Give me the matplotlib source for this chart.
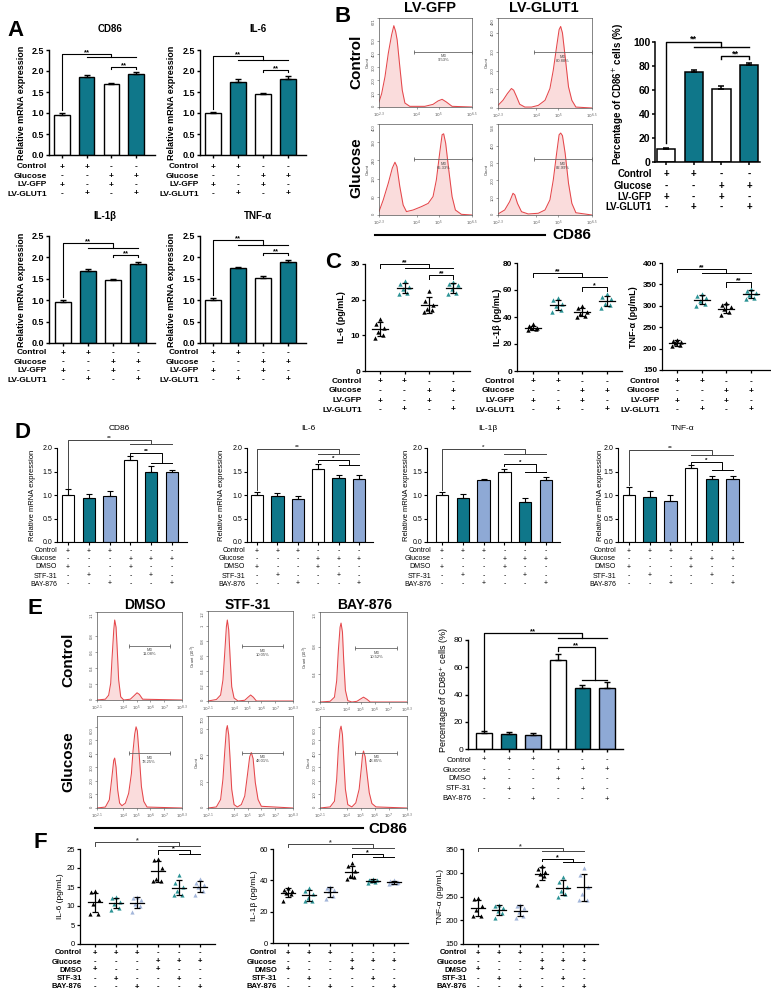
import matplotlib
matplotlib.use('Agg')
import matplotlib.pyplot as plt
import matplotlib.transforms as mtrans
from matplotlib.lines import Line2D
import numpy as np

plt.rcParams['font.family'] = ['Liberation Sans', 'DejaVu Sans']
plt.rcParams['mathtext.fontset'] = 'dejavusans'

W, H = 771, 992
fig = plt.figure(figsize=(W / 100, H / 100), dpi=100)

TEAL = '#0F778A'
TEAL2 = '#2C9496'
LBLUE = '#8EA9D5'
LBLUE2 = '#A3B6DA'
RED = '#E5474B'
PINK = '#FADCDC'

# ===================== DATA =====================
A_cond = ['Control', 'Glucose', 'LV-GFP', 'LV-GLUT1']
A_signs = [['+', '+', '-', '-'], ['-', '-', '+', '+'], ['+', '-', '+', '-'], ['-', '+', '-', '+']]
A_cd86 = [0.96, 1.86, 1.68, 1.93]
A_cd86_sd = [0.05, 0.04, 0.04, 0.05]
A_il6 = [1.00, 1.75, 1.45, 1.82]
A_il6_sd = [0.03, 0.05, 0.03, 0.05]
A_il1b = [0.96, 1.69, 1.47, 1.84]
A_il1b_sd = [0.04, 0.03, 0.02, 0.06]
A_tnf = [1.00, 1.75, 1.53, 1.90]
A_tnf_sd = [0.05, 0.02, 0.04, 0.05]
A_yticks = [0.0, 0.5, 1.0, 1.5, 2.0, 2.5]

B_pct = [11.0, 75.0, 61.0, 80.5]
B_pct_sd = [1.0, 2.0, 2.2, 2.0]
B_yticks = [0, 20, 40, 60, 80, 100]

# flow histograms panel B (log10 fluorescence, count)
B_gfp_ctrl_x = [2.30, 2.42, 2.57, 2.72, 2.87, 2.97, 3.05, 3.12, 3.24, 3.35, 3.47, 3.69, 4.37, 4.74, 4.97, 5.15, 5.34, 5.60, 6.50]
B_gfp_ctrl_y = [38, 101, 228, 405, 544, 613, 570, 506, 304, 127, 30, 5, 5, 20, 46, 58, 38, 5, 0]
B_glut_ctrl_x = [2.30, 2.52, 2.72, 2.90, 3.00, 3.12, 3.27, 3.50, 3.80, 4.10, 4.40, 4.62, 4.77, 4.92, 5.03, 5.10, 5.18, 5.30, 5.45, 5.60, 5.78, 6.50]
B_glut_ctrl_y = [14, 41, 77, 104, 95, 63, 20, 5, 5, 14, 41, 104, 202, 328, 418, 435, 400, 274, 113, 41, 5, 0]
B_gfp_glu_x = [2.30, 2.49, 2.72, 2.90, 3.02, 3.11, 3.24, 3.39, 3.54, 3.84, 4.22, 4.52, 4.74, 4.89, 5.04, 5.15, 5.22, 5.31, 5.45, 5.60, 5.75, 6.02, 6.50]
B_gfp_glu_y = [15, 66, 140, 206, 232, 213, 125, 44, 15, 22, 37, 51, 81, 154, 272, 353, 357, 316, 199, 81, 22, 3, 0]
B_glut_glu_x = [2.30, 2.60, 2.82, 2.97, 3.05, 3.17, 3.35, 3.65, 4.10, 4.40, 4.62, 4.77, 4.92, 5.03, 5.10, 5.18, 5.30, 5.45, 5.60, 5.78, 6.50]
B_glut_glu_y = [6, 29, 77, 125, 116, 67, 19, 6, 10, 29, 87, 202, 356, 462, 472, 457, 356, 183, 67, 13, 0]
B_m3_pct = ['9.53%', '80.88%', '65.33%', '82.99%']

C_cond = A_cond
C_il6 = [[14.5, 13.2, 12.0, 11.0, 10.0, 9.3], [25.2, 24.3, 23.5, 23.0, 22.0, 21.5],
         [22.5, 19.5, 18.5, 17.5, 17.0, 16.5], [25.0, 24.5, 24.0, 23.0, 22.0, 21.5]]
C_il1b = [[34.5, 33.0, 32.0, 31.5, 31.0, 30.5], [54.0, 52.5, 50.0, 48.0, 45.0, 44.0],
          [48.0, 47.0, 44.0, 42.0, 41.0, 40.0], [57.0, 55.0, 53.0, 50.0, 49.0, 47.0]]
C_tnf = [[221, 218, 215, 212, 208, 205], [328, 322, 318, 312, 305, 300],
         [306, 303, 298, 292, 285, 278], [340, 335, 330, 325, 318, 315]]

D_cond = ['Control', 'Glucose', 'DMSO', 'STF-31', 'BAY-876']
D_signs = [['+', '+', '+', '-', '-', '-'], ['-', '-', '-', '+', '+', '+'], ['+', '-', '-', '+', '-', '-'],
           ['-', '+', '-', '-', '+', '-'], ['-', '-', '+', '-', '-', '+']]
D_cd86 = [1.00, 0.94, 0.97, 1.75, 1.49, 1.49]
D_cd86_sd = [0.12, 0.08, 0.12, 0.08, 0.12, 0.05]
D_il6 = [1.00, 0.97, 0.91, 1.55, 1.36, 1.35]
D_il6_sd = [0.07, 0.08, 0.07, 0.11, 0.07, 0.08]
D_il1b = [1.00, 0.93, 1.32, 1.49, 0.86, 1.32]
D_il1b_sd = [0.07, 0.10, 0.03, 0.07, 0.08, 0.07]
D_tnf = [1.00, 0.95, 0.88, 1.58, 1.35, 1.35]
D_tnf_sd = [0.18, 0.13, 0.12, 0.06, 0.05, 0.05]
D_yticks = [0.0, 0.5, 1.0, 1.5, 2.0]

E_pct = [12.0, 11.0, 10.5, 65.0, 45.0, 45.0]
E_pct_sd = [1.2, 1.2, 1.2, 5.0, 2.2, 4.0]
E_yticks = [0, 20, 40, 60, 80]
# flow histograms panel E
E_dmso_ctrl_x = [2.10, 2.71, 2.95, 3.10, 3.19, 3.32, 3.39, 3.49, 3.58, 3.68, 3.83, 4.05, 4.53, 4.78, 5.02, 5.19, 5.43, 8.30]
E_dmso_ctrl_y = [0, 0.01, 0.06, 0.21, 0.50, 0.87, 1.00, 0.91, 0.62, 0.25, 0.04, 0, 0.01, 0.05, 0.09, 0.07, 0.01, 0]
E_stf_ctrl_x = [2.10, 2.71, 3.02, 3.19, 3.32, 3.44, 3.51, 3.61, 3.71, 3.83, 4.00, 4.29, 4.78, 5.02, 5.21, 5.41, 5.63, 8.30]
E_stf_ctrl_y = [0, 0.02, 0.08, 0.28, 0.64, 0.99, 1.08, 0.95, 0.59, 0.19, 0.04, 0, 0.01, 0.05, 0.08, 0.05, 0, 0]
E_bay_ctrl_x = [2.10, 2.82, 3.13, 3.29, 3.41, 3.53, 3.60, 3.70, 3.79, 3.91, 4.08, 4.37, 4.73, 4.96, 5.20, 5.44, 5.68, 8.30]
E_bay_ctrl_y = [0, 0.01, 0.07, 0.31, 0.75, 1.08, 1.14, 1.01, 0.60, 0.17, 0.02, 0, 0.01, 0.04, 0.07, 0.04, 0, 0]
E_dmso_glu_x = [2.10, 2.71, 3.00, 3.19, 3.32, 3.39, 3.49, 3.61, 3.75, 3.92, 4.17, 4.41, 4.61, 4.73, 4.85, 4.95, 5.04, 5.19, 5.34, 5.51, 5.75, 8.30]
E_dmso_glu_y = [0, 7, 61, 231, 352, 369, 303, 133, 36, 17, 36, 109, 255, 425, 546, 600, 570, 376, 158, 49, 7, 0]
E_stf_glu_x = [2.10, 2.71, 3.02, 3.19, 3.32, 3.44, 3.51, 3.61, 3.71, 3.83, 4.00, 4.24, 4.53, 4.78, 4.97, 5.14, 5.26, 5.39, 5.55, 5.75, 5.99, 8.30]
E_stf_glu_y = [0, 8, 65, 220, 427, 596, 627, 557, 376, 142, 26, 8, 26, 91, 246, 389, 422, 376, 194, 65, 13, 0]
E_bay_glu_x = [2.10, 2.82, 3.13, 3.29, 3.41, 3.53, 3.60, 3.70, 3.79, 3.91, 4.08, 4.37, 4.65, 4.89, 5.04, 5.13, 5.20, 5.32, 5.44, 5.61, 5.80, 6.09, 8.30]
E_bay_glu_y = [0, 8, 50, 214, 441, 579, 605, 542, 365, 139, 25, 8, 38, 139, 290, 390, 421, 378, 264, 113, 33, 8, 0]
E_m3_pct = ['11.08%', '10.05%', '10.52%', '78.25%', '48.01%', '48.85%']

F_il6 = [[14.0, 13.6, 11.5, 10.5, 8.0, 8.0], [12.5, 12.0, 11.0, 10.5, 9.5, 9.0], [12.5, 12.0, 11.5, 10.5, 10.0, 8.5],
         [22.5, 22.0, 20.0, 17.0, 16.5, 16.5], [18.2, 16.0, 15.0, 14.0, 13.0, 13.0], [17.0, 16.0, 15.5, 15.0, 14.0, 13.0]]
F_il1b = [[35, 34, 33, 32, 31, 27], [35, 33, 31, 29, 27, 27], [36, 35, 34, 33, 30, 28],
          [51, 49, 46, 43, 42, 41], [41, 40.5, 40, 39.5, 39, 38.5], [40, 39.5, 39, 38.5, 38, 37.5]]
F_tnf = [[246, 244, 230, 222, 209, 208], [232, 230, 226, 220, 215, 204], [233, 230, 225, 218, 210, 205],
         [314, 308, 302, 298, 293, 275], [292, 280, 270, 262, 255, 250], [310, 295, 270, 255, 242, 242]]

# ===================== HELPERS =====================
def fy(py):
    return 1 - py / H


def add_ax(x0, y0, x1, y1):
    return fig.add_axes([x0 / W, 1 - y1 / H, (x1 - x0) / W, (y1 - y0) / H])


def ftext(x, y, s, **kw):
    return fig.text(x / W, 1 - y / H, s, **kw)


def fline(x0, x1, y, lw=1.5):
    fig.add_artist(Line2D([x0 / W, x1 / W], [fy(y), fy(y)], transform=fig.transFigure, color='black', lw=lw))


def base_axes(box, first, step, n, ylim, yticks, ytl, fs, weight, lw, tl=2.5):
    x0, y0, x1, y1 = box
    ax = add_ax(x0, y0, x1, y1)
    ax.set_xlim((x0 - first) / step, (x1 - first) / step)
    ax.set_ylim(*ylim)
    ax.set_xticks(np.arange(n))
    ax.set_xticklabels([])
    ax.set_yticks(yticks)
    ax.set_yticklabels(ytl, fontsize=fs, fontweight=weight)
    for s in ['top', 'right']:
        ax.spines[s].set_visible(False)
    for s in ['left', 'bottom']:
        ax.spines[s].set_linewidth(lw)
    ax.tick_params(length=tl, width=lw, pad=1)
    ax.patch.set_alpha(0)
    return ax


def bar_axes(box, first, step, ylim, yticks, ytl, vals, sds, colors, bw, fs, weight, lw, cap):
    n = len(vals)
    ax = base_axes(box, first, step, n, ylim, yticks, ytl, fs, weight, lw)
    pos = np.arange(n)
    ax.bar(pos, vals, width=bw, color=colors, edgecolor='black', linewidth=lw, zorder=2)
    ax.errorbar(pos, vals, yerr=[np.zeros(n), sds], fmt='none', ecolor='black', elinewidth=lw,
                capsize=cap, capthick=lw, zorder=3)
    return ax


JIT = np.array([0.0, -0.18, 0.18, -0.08, 0.12, -0.22])


def scat_axes(box, first, step, ylim, yticks, ytl, groups, colors, fs, weight, lw, ms=10):
    n = len(groups)
    ax = base_axes(box, first, step, n, ylim, yticks, ytl, fs, weight, lw)
    for i, pts in enumerate(groups):
        pts = np.asarray(pts, dtype=float)
        ax.scatter(i + JIT[:len(pts)], pts, marker='^', s=ms, color=colors[i], linewidths=0, zorder=3)
        m = pts.mean()
        sd = pts.std(ddof=1)
        ax.plot([i - 0.32, i + 0.32], [m, m], color='black', lw=lw, zorder=4)
        ax.errorbar([i], [m], yerr=[sd], fmt='none', ecolor='black', elinewidth=lw, capsize=2.5,
                    capthick=lw, zorder=4)
    return ax


def sign_table(ax, label_x, row_ys, labels, signs, fs, weight):
    trans = mtrans.blended_transform_factory(ax.transData, fig.transFigure)
    for lab, ry, row in zip(labels, row_ys, signs):
        ftext(label_x, ry, lab, ha='right', va='center', fontsize=fs, fontweight=weight)
        for j, s in enumerate(row):
            ax.text(j, fy(ry), s, transform=trans, ha='center', va='center', fontsize=fs,
                    fontweight=weight, clip_on=False)


def grp(ax, xl, yl0, ytop, s0, s1, ysub, star, fs=5, lw=0.7, color='black'):
    xm = (s0 + s1) / 2
    ax.plot([xl, xl, xm, xm], [yl0, ytop, ytop, ysub], color=color, lw=lw, clip_on=False, zorder=5)
    ax.plot([s0, s1], [ysub, ysub], color=color, lw=lw, clip_on=False, zorder=5)
    ax.text((xl + xm) / 2, ytop, star, ha='center', va='baseline', fontsize=fs, fontweight='bold',
            color=color, clip_on=False)


def pair(ax, a, b, y, drop, star, fs=5, lw=0.7, color='black'):
    ax.plot([a, a, b, b], [y - drop, y, y, y - drop], color=color, lw=lw, clip_on=False, zorder=5)
    ax.text((a + b) / 2, y, star, ha='center', va='baseline', fontsize=fs, fontweight='bold',
            color=color, clip_on=False)


def vlabel(x, yc, s, fs, weight='normal'):
    ftext(x, yc, s, rotation=90, ha='center', va='center', fontsize=fs, fontweight=weight)


def flow_axes(box, xlim, xticks, xtl, ylim, yticks, ytl, xs, ys, m3x, m3y, pct, ylabel):
    ax = add_ax(*box)
    ax.fill_between(xs, ys, 0, color=PINK, lw=0)
    ax.plot(xs, ys, color=RED, lw=0.75)
    ax.set_xlim(*xlim)
    ax.set_ylim(*ylim)
    ax.set_xticks(xticks)
    ax.set_xticklabels(xtl, fontsize=3.0, color='#333')
    ax.set_yticks(yticks)
    labs = ax.set_yticklabels(ytl, fontsize=3.0, rotation=90, va='center', color='#333')
    labs[-1].set_va('top')
    labs[0].set_va('bottom')
    for s in ax.spines.values():
        s.set_linewidth(0.5)
        s.set_color('#555')
    ax.tick_params(length=1.5, width=0.4, pad=1, colors='#555')
    ax.plot(m3x, [m3y, m3y], color='#666', lw=0.6, marker='|', ms=3, mew=0.6)
    ax.text((m3x[0] + m3x[1]) / 2, m3y - 0.03 * ylim[1], 'M3\n' + pct, fontsize=3.0, ha='center',
            va='top', color='#444', linespacing=1.0)
    if ylabel:
        ax.set_ylabel(ylabel, fontsize=3.0, labelpad=1, color='#333')
    return ax


# ===================== PANEL A =====================
ftext(15, 30, 'A', fontsize=16, fontweight='bold', ha='center', va='center')
A_ytl = ['0.0', '0.5', '1.0', '1.5', '2.0', '2.5']
A_colors = ['white', TEAL, 'white', TEAL]
A_specs = [
    ((49, 50, 155, 155), 62, 24.7, A_cd86, A_cd86_sd, 'CD86', 110, 29, [167, 176, 185, 194], 47, 22,
     (1.08, 2.41, 2.33, 2.10)),
    ((200, 50, 306, 155), 213, 25.0, A_il6, A_il6_sd, 'IL-6', 258, 29, [167, 176, 185, 194], 199, 172,
     (1.10, 2.35, 2.27, 2.03)),
    ((49, 236, 155, 343), 63, 25.0, A_il1b, A_il1b_sd, 'IL-1β', 105, 216, [353, 362, 371, 380], 47, 22,
     (1.08, 2.34, 2.22, 2.06)),
    ((200, 236, 306, 343), 213, 25.0, A_tnf, A_tnf_sd, 'TNF-α', 258, 216, [353, 362, 371, 380], 199, 172,
     (1.12, 2.40, 2.30, 2.10)),
]
for box, first, step, vals, sds, title, tx, ty, rows, lx, ylx, br in A_specs:
    ax = bar_axes(box, first, step, (0, 2.5), A_yticks, A_ytl, vals, sds, A_colors, 0.62, 6.5, 'bold', 1.0, 2.5)
    ftext(tx, ty, title, fontsize=7, fontweight='bold', ha='center', va='center')
    vlabel(ylx, (box[1] + box[3]) / 2, 'Relative mRNA expression', 6.5, 'bold')
    sign_table(ax, lx, rows, A_cond, A_signs, 6, 'bold')
    grp(ax, 0, br[0], br[1], 1, 3, br[2], '**', fs=5.5, lw=0.8)
    pair(ax, 2, 3, br[3], 0.05, '**', fs=5.5, lw=0.8)

# ===================== PANEL B =====================
ftext(343, 16, 'B', fontsize=16, fontweight='bold', ha='center', va='center')
ftext(430, 8, 'LV-GFP', fontsize=10.5, fontweight='bold', ha='center', va='center')
ftext(544, 8, 'LV-GLUT1', fontsize=10.5, fontweight='bold', ha='center', va='center')
vlabel(356, 62, 'Control', 11, 'bold')
vlabel(356, 168, 'Glucose', 11, 'bold')
Bx = (2.3, 6.5)
Bxt = [2.3, 4, 5, 6.5]
Bxtl = [r'$10^{2.3}$', r'$10^{4}$', r'$10^{5}$', r'$10^{6.5}$']
flow_axes((379, 18, 472, 107), Bx, Bxt, Bxtl, (0, 671), [0, 100, 200, 300, 400, 500, 671],
          ['0', '100', '200', '300', '400', '500', '671'], B_gfp_ctrl_x, B_gfp_ctrl_y, (3.9, 6.5), 418,
          B_m3_pct[0], 'Count')
flow_axes((498, 18, 592, 108), Bx, Bxt, Bxtl, (0, 480), [0, 100, 200, 300, 400, 480],
          ['0', '100', '200', '300', '400', '480'], B_glut_ctrl_x, B_glut_ctrl_y, (3.9, 6.5), 297,
          B_m3_pct[1], 'Count')
flow_axes((379, 124, 472, 215), Bx, Bxt, Bxtl, (0, 400), [0, 80, 160, 240, 320, 400],
          ['0', '80', '160', '240', '320', '400'], B_gfp_glu_x, B_gfp_glu_y, (3.9, 6.5), 246,
          B_m3_pct[2], 'Count')
flow_axes((498, 124, 592, 215), Bx, Bxt, Bxtl, (0, 524), [0, 100, 200, 300, 400, 524],
          ['0', '100', '200', '300', '400', '524'], B_glut_glu_x, B_glut_glu_y, (3.9, 6.5), 322,
          B_m3_pct[3], 'Count')
fline(375, 545, 235, 1.5)
ftext(552, 235, 'CD86', fontsize=11, fontweight='bold', ha='left', va='center')

axb = bar_axes((655, 42, 760, 162), 666, 27.7, (0, 100), B_yticks, [str(v) for v in B_yticks], B_pct, B_pct_sd,
               A_colors, 0.66, 7.5, 'bold', 1.1, 2.5)
vlabel(618, 94, 'Percentage of CD86$^{+}$ cells (%)', 7, 'bold')
sign_table(axb, 652, [174, 186, 197, 207], A_cond, A_signs, 7, 'bold')
grp(axb, 0, 16, 100, 1, 3, 96, '**', fs=6.5, lw=1.0)
pair(axb, 2, 3, 88, 2.5, '**', fs=6.5, lw=1.0)

# ===================== PANEL C =====================
ftext(333, 262, 'C', fontsize=16, fontweight='bold', ha='center', va='center')
C_colors = ['black', TEAL2, 'black', TEAL2]
C_rows = [382, 391, 401, 410]
axc1 = scat_axes((365, 264, 470, 371), 380, 24.5, (0, 30), [0, 10, 20, 30], ['0', '10', '20', '30'],
                 C_il6, C_colors, 6, 'bold', 0.9)
vlabel(342, 317, 'IL-6 (pg/mL)', 6.5, 'bold')
sign_table(axc1, 362, C_rows, C_cond, A_signs, 6, 'bold')
grp(axc1, 0, 29.0, 29.9, 1, 3, 28.8, '**', fs=5)
pair(axc1, 2, 3, 26.8, 1.0, '**', fs=5)

axc2 = scat_axes((517, 263, 622, 371), 533, 24.6, (0, 80), [0, 20, 40, 60, 80], ['0', '20', '40', '60', '80'],
                 C_il1b, C_colors, 6, 'bold', 0.9)
vlabel(497, 317, 'IL-1β (pg/mL)', 6.5, 'bold')
sign_table(axc2, 515, C_rows, C_cond, A_signs, 6, 'bold')
grp(axc2, 0, 70.0, 72.6, 1, 3, 69.6, '**', fs=5)
pair(axc2, 2, 3, 62.2, 3.0, '*', fs=5)

axc3 = scat_axes((662, 263, 770, 370), 677, 24.7, (150, 400), [150, 200, 250, 300, 350, 400],
                 ['150', '200', '250', '300', '350', '400'], C_tnf, C_colors, 6, 'bold', 0.9)
vlabel(633, 317, 'TNF-α (pg/mL)', 6.5, 'bold')
sign_table(axc3, 660, C_rows, C_cond, A_signs, 6, 'bold')
grp(axc3, 0, 380, 386, 1, 3, 376, '**', fs=5)
pair(axc3, 2, 3, 355, 10, '**', fs=5)

# ===================== PANEL D =====================
ftext(22, 432, 'D', fontsize=16, fontweight='bold', ha='center', va='center')
D_colors = ['white', TEAL, LBLUE, 'white', TEAL, LBLUE]
D_rows = [551, 559, 567, 576, 584]
D_ytl = ['0.0', '0.5', '1.0', '1.5', '2.0']
D_specs = [
    ((57, 448, 187, 542), 68, 20.8, D_cd86, D_cd86_sd, 'CD86', 119, 57, 33,
     (1.15, 2.17, 2.08, '**', 1.85, 1.89, 1.68, '**')),
    ((247, 448, 373, 542), 257, 20.4, D_il6, D_il6_sd, 'IL-6', 308, 245, 222,
     (1.10, 1.98, 1.87, '**', 1.70, 1.74, 1.63, '*')),
    ((427, 448, 560, 542), 442, 20.8, D_il1b, D_il1b_sd, 'IL-1β', 488, 431, 407,
     (1.10, 1.98, 1.87, '*', 1.62, 1.66, 1.48, '*')),
    ((618, 448, 743, 542), 629, 20.7, D_tnf, D_tnf_sd, 'TNF-α', 683, 616, 601,
     (1.22, 1.96, 1.85, '**', 1.66, 1.70, 1.53, '*')),
]
for box, first, step, vals, sds, title, tx, lx, ylx, br in D_specs:
    ax = bar_axes(box, first, step, (0, 2.0), D_yticks, D_ytl, vals, sds, D_colors, 0.6, 5, 'normal', 0.8, 2)
    ftext(tx, 428, title, fontsize=6, ha='center', va='center')
    vlabel(ylx, (box[1] + box[3]) / 2, 'Relative mRNA expression', 5.5)
    sign_table(ax, lx, D_rows, D_cond, D_signs, 5, 'normal')
    grp(ax, 0, br[0], br[1], 3, 5, br[2], br[3], fs=4.5, lw=0.7, color='#444')
    grp(ax, 3, br[4], br[5], 4, 5, br[6], br[7], fs=4.5, lw=0.7)

# ===================== PANEL E =====================
ftext(35, 608, 'E', fontsize=16, fontweight='bold', ha='center', va='center')
ftext(145, 605, 'DMSO', fontsize=10, fontweight='bold', ha='center', va='center')
ftext(248, 605, 'STF-31', fontsize=10, fontweight='bold', ha='center', va='center')
ftext(365, 605, 'BAY-876', fontsize=10, fontweight='bold', ha='center', va='center')
vlabel(68, 660, 'Control', 11, 'bold')
vlabel(68, 762, 'Glucose', 11, 'bold')
Ex = (2.1, 8.3)
Ext = [2.1, 4, 5, 6, 7, 8.3]
Extl = [r'$10^{2.1}$', r'$10^{4}$', r'$10^{5}$', r'$10^{6}$', r'$10^{7}$', r'$10^{8.3}$']
flow_axes((97, 612, 182, 700), Ex, Ext, Extl, (0, 1.1), [0, 0.2, 0.4, 0.6, 0.8, 1.1],
          ['0', '0.2', '0.4', '0.6', '0.8', '1.1'], E_dmso_ctrl_x, E_dmso_ctrl_y, (4.4, 7.4), 0.68,
          E_m3_pct[0], None)
flow_axes((208, 611, 293, 701), Ex, Ext, Extl, (0, 1.2), [0, 0.2, 0.4, 0.6, 0.8, 1.0, 1.2],
          ['0', '0.2', '0.4', '0.6', '0.8', '1', '1.2'], E_stf_ctrl_x, E_stf_ctrl_y, (4.6, 7.6), 0.73,
          E_m3_pct[1], 'Count (10$^3$)')
flow_axes((320, 612, 407, 702), Ex, Ext, Extl, (0, 1.3), [0, 0.4, 0.8, 1.3],
          ['0', '0.4', '0.8', '1.3'], E_bay_ctrl_x, E_bay_ctrl_y, (4.6, 7.6), 0.78,
          E_m3_pct[2], 'Count (10$^3$)')
flow_axes((97, 716, 182, 808), Ex, Ext, Extl, (0, 680), [0, 100, 200, 300, 400, 500, 600],
          ['0', '100', '200', '300', '400', '500', '600'], E_dmso_glu_x, E_dmso_glu_y, (4.4, 7.4), 405,
          E_m3_pct[3], None)
flow_axes((208, 716, 293, 808), Ex, Ext, Extl, (0, 700), [0, 200, 400, 600, 700],
          ['0', '200', '400', '600', '700'], E_stf_glu_x, E_stf_glu_y, (4.6, 7.6), 422,
          E_m3_pct[4], 'Count')
flow_axes((320, 716, 407, 808), Ex, Ext, Extl, (0, 680), [0, 100, 200, 300, 400, 500, 600],
          ['0', '100', '200', '300', '400', '500', '600'], E_bay_glu_x, E_bay_glu_y, (4.6, 7.6), 410,
          E_m3_pct[5], 'Count')
fline(95, 363, 828, 1.5)
ftext(368, 829, 'CD86', fontsize=11, fontweight='bold', ha='left', va='center')

axe = bar_axes((468, 640, 623, 749), 484, 24.6, (0, 80), E_yticks, [str(v) for v in E_yticks], E_pct, E_pct_sd,
               D_colors, 0.64, 6, 'normal', 1.0, 2.5)
vlabel(444, 690, 'Percentage of CD86$^{+}$ cells (%)', 6.5)
sign_table(axe, 471, [760, 770, 779, 789, 799], D_cond, D_signs, 5.5, 'normal')
grp(axe, 0, 14, 85, 3, 5, 81.5, '**', fs=5.5, lw=0.9)
grp(axe, 3, 72, 75, 4, 5, 51, '**', fs=5.5, lw=0.9)

# ===================== PANEL F =====================
ftext(40, 843, 'F', fontsize=16, fontweight='bold', ha='center', va='center')
F_colors = ['black', TEAL2, LBLUE2, 'black', TEAL2, LBLUE2]
F_rows = [953, 962, 970, 979, 987]
axf1 = scat_axes((80, 849, 215, 944), 95, 21.0, (0, 25), [0, 5, 10, 15, 20, 25], ['0', '5', '10', '15', '20', '25'],
                 F_il6, F_colors, 5.5, 'normal', 0.9, ms=9)
vlabel(60, 896, 'IL-6 (pg/mL)', 6)
sign_table(axf1, 82, F_rows, D_cond, D_signs, 5.5, 'bold')
grp(axf1, 0, 25.9, 26.8, 3, 5, 25.8, '*', fs=5, color='#444')
grp(axf1, 3, 23.7, 24.7, 4, 5, 23.7, '*', fs=5)

axf2 = scat_axes((273, 849, 408, 943), 288, 21.2, (0, 60), [0, 20, 40, 60], ['0', '20', '40', '60'],
                 F_il1b, F_colors, 5.5, 'normal', 0.9, ms=9)
vlabel(255, 896, 'IL-1β (pg/mL)', 6)
sign_table(axf2, 277, F_rows, D_cond, D_signs, 5.5, 'bold')
grp(axf2, 0, 61.0, 63.2, 3, 5, 60.6, '*', fs=5, color='#444')
grp(axf2, 3, 55.0, 56.8, 4, 5, 54.9, '*', fs=5)

axf3 = scat_axes((463, 849, 598, 944), 478, 21.2, (150, 350), [150, 200, 250, 300, 350],
                 ['150', '200', '250', '300', '350'], F_tnf, F_colors, 5.5, 'normal', 0.9, ms=9)
vlabel(440, 896, 'TNF-α (pg/mL)', 6)
sign_table(axf3, 467, F_rows, D_cond, D_signs, 5.5, 'bold')
grp(axf3, 0, 346, 352, 3, 5, 346, '*', fs=5, color='#444')
grp(axf3, 3, 325, 329, 4, 5, 323, '*', fs=5)

fig.savefig('out.png', dpi=100)
